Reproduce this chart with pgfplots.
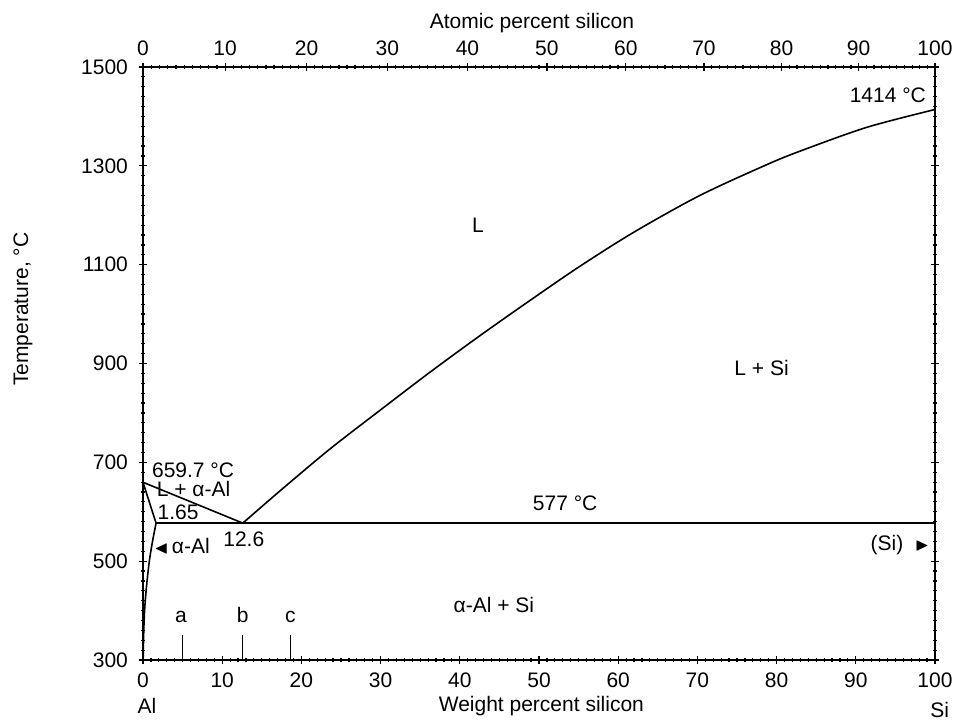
\documentclass[border=0pt]{standalone}
\usepackage{amssymb}
\usepackage{fontspec}
\setmainfont{Liberation Sans}
\usepackage{pgfplots}
\pgfplotsset{compat=1.18}
\def\atminor{0}
\foreach \a in {1,...,99}{\pgfmathparse{100*1.04092*\a/(100+0.04092*\a)}\xdef\atminor{\atminor,\pgfmathresult}}
\begin{document}
\begin{tikzpicture}[font=\fontsize{10.5}{12}\selectfont]
\begin{axis}[name=main, scale only axis, width=396pt, height=296.5pt,
  xmin=0, xmax=100, ymin=300, ymax=1500, clip=false,
  xtick={0,10,...,100}, minor x tick num=9,
  ytick={300,500,...,1500}, minor y tick num=9,
  xtick pos=left, ytick pos=both, tick align=center,
  major tick length=4pt, minor tick length=2pt,
  axis line style={line width=0.8pt},
  every tick/.style={black, line width=0.6pt},
  /pgf/number format/assume math mode=true,
  /pgf/number format/1000 sep={},
  xticklabel style={yshift=-1pt},
  yticklabel style={xshift=-2pt},
  tick label style={font=\fontsize{10.5}{12}\selectfont}]
\addplot[black, line width=0.8pt] coordinates {(0,659.7) (12.6,577)};
\addplot[black, line width=0.8pt, smooth, tension=0.5] coordinates {(12.6,577) (17.5,645) (23.6,727) (29.9,805) (36.2,882) (42.6,957) (48.9,1028) (55.0,1095) (61.9,1165) (70.3,1240) (78.7,1302) (83.0,1330) (91.4,1378) (100,1414)};
\addplot[black, line width=0.8pt] coordinates {(1.65,577) (100,577)};
\addplot[black, line width=0.8pt] coordinates {(0,659.7) (1.65,577)};
\addplot[black, line width=0.8pt, smooth] coordinates {(1.65,577) (1.2,540) (0.8,500) (0.45,450) (0.2,400) (0.08,350) (0.02,300)};
\addplot[black, line width=0.6pt] coordinates {(5,300) (5,350)};
\addplot[black, line width=0.6pt] coordinates {(12.6,300) (12.6,350)};
\addplot[black, line width=0.6pt] coordinates {(18.6,300) (18.6,350)};
\node[anchor=base] at (axis cs:4.8,376) {a};
\node[anchor=base] at (axis cs:12.6,376) {b};
\node[anchor=base] at (axis cs:18.6,376) {c};
\node[anchor=west, inner sep=0pt] at (axis cs:1.1,684) {659.7 °C};
\node[anchor=west, inner sep=0pt] at (axis cs:1.7,646) {L + α-Al};
\node[anchor=west, inner sep=0pt] at (axis cs:1.8,598) {1.65};
\node[anchor=west, inner sep=0pt] at (axis cs:10.1,545) {12.6};
\node[anchor=west, inner sep=0pt] at (axis cs:1.4,531) {{\small$\blacktriangleleft$}\,α-Al};
\node at (axis cs:53.3,618) {577 °C};
\node at (axis cs:44.3,411) {α-Al + Si};
\node[anchor=east, inner sep=0pt] at (axis cs:99.3,533) {(Si)\ \ {\small$\blacktriangleright$}};
\node[anchor=east, inner sep=0pt] at (axis cs:98.9,1443) {1414 °C};
\node at (axis cs:42.3,1180) {L};
\node at (axis cs:78.1,891) {L + Si};
\node[rotate=90] at ([xshift=-60pt]axis cs:0,1010) {Temperature, °C};
\node at ([yshift=-23pt]axis cs:50.3,300) {Weight percent silicon};
\node at ([yshift=-23pt]axis cs:0.5,300) {Al};
\node at ([yshift=-25pt]axis cs:100.6,300) {Si};
\node at ([yshift=22pt]axis cs:49.1,1500) {Atomic percent silicon};
\end{axis}
\begin{axis}[at={(main.south west)}, anchor=south west, scale only axis,
  width=396pt, height=296.5pt, xmin=0, xmax=100, ymin=0, ymax=1,
  axis x line*=top, axis y line=none,
  xtick={0,10.37,20.65,30.85,40.97,51.0,60.97,70.83,80.63,90.35,100},
  xticklabels={0,10,20,30,40,50,60,70,80,90,100},
  minor xtick=\atminor, tick align=center,
  major tick length=4pt, minor tick length=2pt,
  axis line style={line width=0.8pt},
  every tick/.style={black, line width=0.6pt},
  /pgf/number format/assume math mode=true,
  tick label style={font=\fontsize{10.5}{12}\selectfont}]
\end{axis}
\pgfresetboundingbox
\path (main.south west) ++(-71.5pt,-30pt) rectangle ++(478.5pt,360pt);
\end{tikzpicture}
\end{document}
